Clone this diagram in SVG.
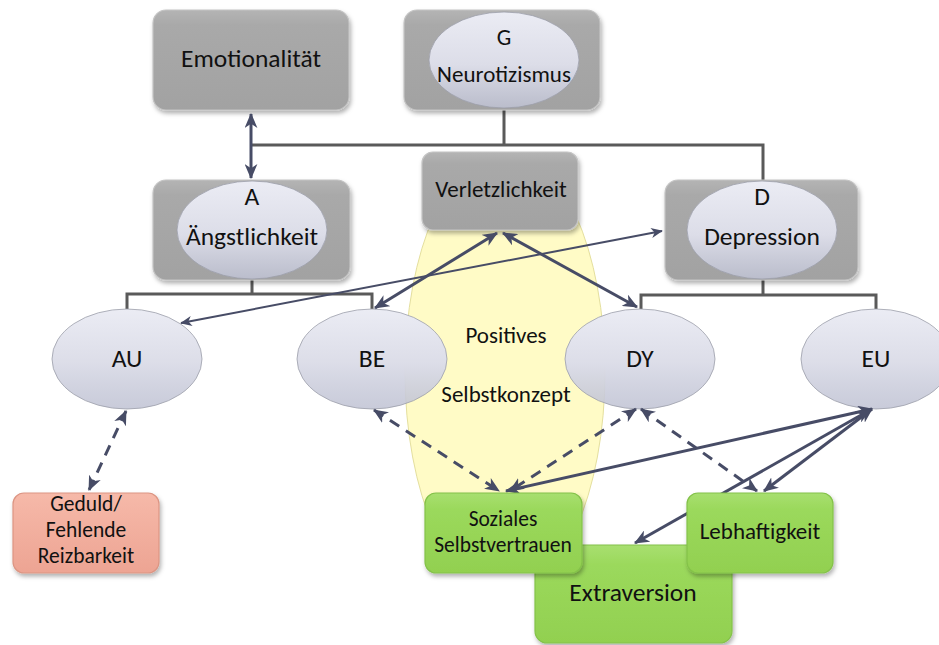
<svg xmlns="http://www.w3.org/2000/svg" width="939" height="645" viewBox="0 0 939 645">
  <defs>
    <linearGradient id="gGray" x1="0" y1="0" x2="0" y2="1">
      <stop offset="0" stop-color="#b4b4b4"/>
      <stop offset="0.15" stop-color="#a9a9a9"/>
      <stop offset="1" stop-color="#a2a2a2"/>
    </linearGradient>
    <linearGradient id="gOval" x1="0" y1="0" x2="0" y2="1">
      <stop offset="0" stop-color="#ebecf4"/>
      <stop offset="0.55" stop-color="#dcdde8"/>
      <stop offset="1" stop-color="#bfc2d3" stop-opacity="0.85"/>
    </linearGradient>
    <linearGradient id="gGreen" x1="0" y1="0" x2="0" y2="1">
      <stop offset="0" stop-color="#a8df70"/>
      <stop offset="0.2" stop-color="#9bd95c"/>
      <stop offset="1" stop-color="#92d050"/>
    </linearGradient>
    <linearGradient id="gSalmon" x1="0" y1="0" x2="0" y2="1">
      <stop offset="0" stop-color="#f6b9a9"/>
      <stop offset="1" stop-color="#eda493"/>
    </linearGradient>
    <filter id="shadow" x="-10%" y="-10%" width="125%" height="130%">
      <feDropShadow dx="1.5" dy="3" stdDeviation="2" flood-color="#000" flood-opacity="0.3"/>
    </filter>
    <clipPath id="yellowClip">
      <rect x="0" y="200" width="939" height="325"/>
    </clipPath>
    <marker id="arrow" viewBox="0 0 14 12" refX="13" refY="6" markerWidth="15" markerHeight="13" markerUnits="userSpaceOnUse" orient="auto-start-reverse">
      <path d="M0,0 L14,6 L0,12 L4,6 z" fill="#474c66"/>
    </marker>
    <marker id="arrowThin" viewBox="0 0 14 12" refX="13" refY="6" markerWidth="12" markerHeight="10" markerUnits="userSpaceOnUse" orient="auto-start-reverse">
      <path d="M0,0 L14,6 L0,12 L4,6 z" fill="#474c66"/>
    </marker>
  </defs>
  <style>
    text { font-family: "Carlito", "Lato", "Liberation Sans", sans-serif; fill: #111; text-anchor: middle; }
    .box { fill: url(#gGray); stroke: #c4c4c4; stroke-width: 1.2; filter: url(#shadow); }
    .oval { fill: url(#gOval); stroke: #9c9eaa; stroke-width: 0.8; }
    .green { fill: url(#gGreen); stroke: #84c24a; stroke-width: 1.2; filter: url(#shadow); }
    .salmon { fill: url(#gSalmon); stroke: #dc9583; stroke-width: 1.2; filter: url(#shadow); }
    .tree { fill: none; stroke: #5a5a5a; stroke-width: 3; }
    .link { fill: none; stroke: #474c66; stroke-width: 3; marker-start: url(#arrow); marker-end: url(#arrow); }
    .thin { fill: none; stroke: #474c66; stroke-width: 2; marker-start: url(#arrowThin); marker-end: url(#arrowThin); }
    .dash { stroke-dasharray: 11 8; }
    .big { font-size: 25.5px; }
    .mid { font-size: 23px; }
    .small { font-size: 21.5px; }
  </style>

  <!-- region behind the middle column -->
  <g id="selbstkonzept-area">
    <ellipse cx="505" cy="372" rx="100" ry="222" fill="#fffbc6" stroke="#e4df9e" stroke-width="1" clip-path="url(#yellowClip)"/>
  </g>

  <!-- hierarchy lines -->
  <g id="tree-lines">
    <path class="tree" d="M504,110 V145 M251,145 H763 V180"/>
    <path class="tree" d="M252,280 V294 M127,309 V294 H372 V309"/>
    <path class="tree" d="M763,280 V295 M641,309 V295 H876 V309"/>
  </g>

  <g id="emotionalitaet">
    <rect class="box" x="153" y="10" width="196" height="100" rx="13"/>
    <text class="big" x="251" y="67">Emotionalität</text>
  </g>

  <g id="neurotizismus">
    <rect class="box" x="404" y="10" width="196" height="100" rx="13"/>
    <ellipse class="oval" cx="504" cy="60" rx="75" ry="48"/>
    <text class="mid" x="504" y="45">G</text>
    <text class="mid" x="504" y="82">Neurotizismus</text>
  </g>

  <g id="aengstlichkeit">
    <rect class="box" x="153" y="180" width="197" height="100" rx="13"/>
    <ellipse class="oval" cx="252" cy="230" rx="75" ry="49"/>
    <text class="big" x="252" y="205">A</text>
    <text class="big" x="252" y="245">Ängstlichkeit</text>
  </g>

  <g id="verletzlichkeit">
    <rect class="box" x="422" y="152" width="156" height="78" rx="11"/>
    <text class="mid" x="501" y="197">Verletzlichkeit</text>
  </g>

  <g id="depression">
    <rect class="box" x="665" y="180" width="193" height="100" rx="13"/>
    <ellipse class="oval" cx="762" cy="230" rx="75" ry="49"/>
    <text class="big" x="762" y="205">D</text>
    <text class="big" x="762" y="245">Depression</text>
  </g>

  <g id="au">
    <ellipse class="oval" cx="127" cy="359" rx="75" ry="50"/>
    <text class="big" x="127" y="367">AU</text>
  </g>

  <g id="be">
    <ellipse class="oval" cx="372" cy="359" rx="75" ry="50"/>
    <text class="big" x="372" y="367">BE</text>
  </g>

  <g id="dy">
    <ellipse class="oval" cx="640" cy="359" rx="75" ry="50"/>
    <text class="big" x="640" y="367">DY</text>
  </g>

  <g id="eu">
    <ellipse class="oval" cx="876" cy="359" rx="75" ry="50"/>
    <text class="big" x="876" y="367">EU</text>
  </g>

  <g id="selbstkonzept-label">
    <text class="mid" x="506" y="343">Positives</text>
    <text class="mid" x="506" y="402">Selbstkonzept</text>
  </g>

  <!-- relations -->
  <g id="connectors">
    <path class="link" d="M251,114 L251,178"/>
    <path class="link" d="M497,233 L375,308"/>
    <path class="link" d="M503,233 L637,307"/>
    <path class="thin" d="M181,323 L662,231"/>
    <path class="link dash" d="M126,411 L89,490"/>
    <path class="link dash" d="M374,410 L499,491"/>
    <path class="link dash" d="M636,409 L510,491"/>
    <path class="link dash" d="M641,409 L757,491"/>
    <path class="link" d="M872,409 L506,491"/>
    <path class="link" d="M872,409 L764,491"/>
    <path class="link" d="M870,410 L635,543"/>
  </g>

  <g id="geduld">
    <rect class="salmon" x="13" y="493" width="146" height="80" rx="11"/>
    <text class="small" x="86" y="511">Geduld/</text>
    <text class="small" x="86" y="537">Fehlende</text>
    <text class="small" x="86" y="563">Reizbarkeit</text>
  </g>

  <g id="extraversion">
    <rect class="green" x="535" y="545" width="197" height="98" rx="12"/>
    <text class="big" x="633" y="601">Extraversion</text>
  </g>

  <g id="soziales-selbstvertrauen">
    <rect class="green" x="425" y="493" width="157" height="80" rx="11"/>
    <text class="small" x="503" y="526">Soziales</text>
    <text class="small" x="503" y="552">Selbstvertrauen</text>
  </g>

  <g id="lebhaftigkeit">
    <rect class="green" x="687" y="493" width="146" height="80" rx="11"/>
    <text class="mid" x="760" y="539">Lebhaftigkeit</text>
  </g>
</svg>
